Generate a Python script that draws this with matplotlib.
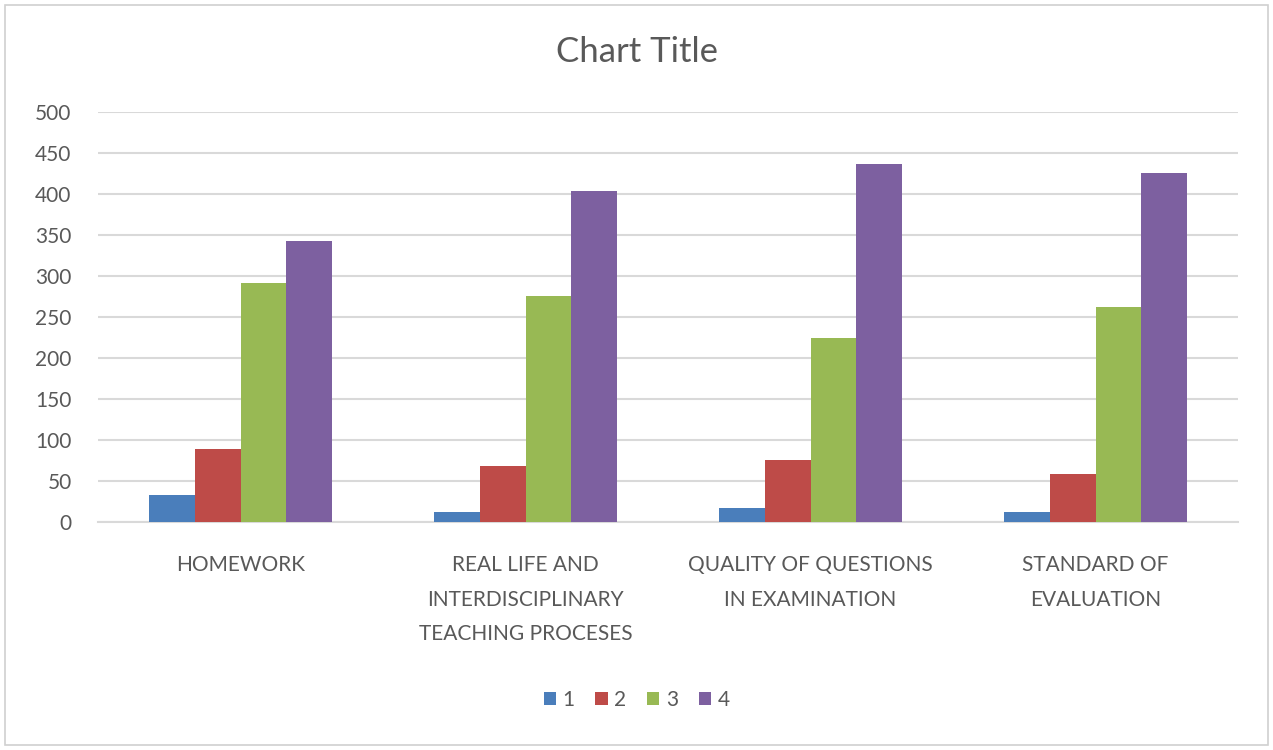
import numpy as np
import matplotlib.pyplot as plt
from matplotlib.patches import Rectangle

# Datos
categorias = ['HOMEWORK',
              'REAL LIFE AND\nINTERDISCIPLINARY\nTEACHING PROCESES',
              'QUALITY OF QUESTIONS\nIN EXAMINATION',
              'STANDARD OF\nEVALUATION']
series = ['1', '2', '3', '4']
valores_1 = [33, 12, 17, 12]
valores_2 = [89, 68, 76, 58]
valores_3 = [292, 276, 224, 262]
valores_4 = [343, 404, 437, 426]
colores = ['#4a7ebb', '#be4b48', '#98b954', '#7d60a0']

plt.rcParams['font.family'] = ['Lato', 'DejaVu Sans']
gris = '#595959'

fig = plt.figure(figsize=(12.73, 7.5), dpi=100)
ax = fig.add_axes([98 / 1273, 1 - 522 / 750, 1140 / 1273, 410 / 750])

# Borde exterior del grafico
fig.patches.append(Rectangle((5 / 1273, 5 / 750), 1263 / 1273, 740 / 750,
                             transform=fig.transFigure, fill=False,
                             edgecolor='#d0d0d0', linewidth=1.2))

x = np.arange(len(categorias))
ancho = 0.16
todos = [valores_1, valores_2, valores_3, valores_4]
for i, vals in enumerate(todos):
    ax.bar(x + (i - 1.5) * ancho, vals, ancho, color=colores[i], label=series[i], zorder=3)

ax.set_xlim(-0.5, len(categorias) - 0.5)
ax.set_ylim(0, 500)
ax.set_yticks(np.arange(0, 501, 50))
ax.set_xticks(x)
ax.set_xticklabels(categorias, linespacing=1.9, va='top')
ax.tick_params(axis='x', length=0, pad=24, labelsize=15, labelcolor=gris)
ax.tick_params(axis='y', length=0, pad=19, labelsize=15, labelcolor=gris)
for lbl in ax.get_yticklabels():
    lbl.set_horizontalalignment('right')

ax.grid(axis='y', color='#d9d9d9', linewidth=1.5, zorder=0)
for s in ['top', 'right', 'left']:
    ax.spines[s].set_visible(False)
ax.spines['bottom'].set_color('#d9d9d9')
ax.spines['bottom'].set_linewidth(1.5)

fig.text(0.5, 1 - 52 / 750, 'Chart Title', ha='center', va='center', fontsize=25, color=gris)

fig.legend(loc='center', bbox_to_anchor=(0.5, 1 - 700 / 750), ncol=4, frameon=False,
           fontsize=15, labelcolor=gris, handlelength=0.6, handleheight=0.6,
           handletextpad=0.3, columnspacing=1.0)

plt.savefig('out.png', dpi=100)
